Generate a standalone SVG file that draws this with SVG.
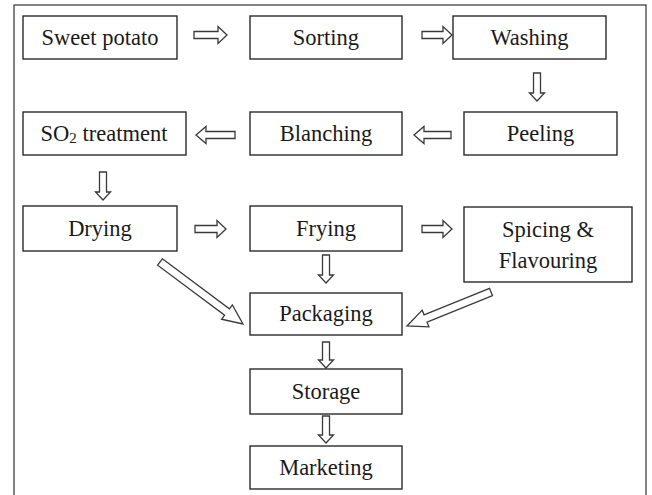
<svg xmlns="http://www.w3.org/2000/svg" width="652" height="495" viewBox="0 0 652 495">
<style>
.box{fill:#fff;stroke:#2a2a2a;stroke-width:1.4}
.lbl{font-size:22.5px;fill:#1a1a1a;text-anchor:middle}
.arr{fill:#fff;stroke:#3a3a3a;stroke-width:1.3;stroke-linejoin:miter}
</style>
<rect x="0" y="0" width="652" height="495" fill="#fff"/>
<rect x="14" y="5" width="632" height="500" fill="none" stroke="#333" stroke-width="1.2"/>
<g font-family="Liberation Serif, DejaVu Serif, serif">
<g id="sweet-potato"><rect class="box" x="23" y="16" width="154" height="43"/><text class="lbl" x="100" y="45">Sweet potato</text></g>
<g id="sorting"><rect class="box" x="250" y="16" width="152" height="43"/><text class="lbl" x="326" y="45">Sorting</text></g>
<g id="washing"><rect class="box" x="453" y="16" width="153" height="43"/><text class="lbl" x="529.5" y="45">Washing</text></g>
<g id="peeling"><rect class="box" x="464" y="112" width="153" height="43"/><text class="lbl" x="540.5" y="141">Peeling</text></g>
<g id="blanching"><rect class="box" x="250" y="112" width="152" height="43"/><text class="lbl" x="326" y="141">Blanching</text></g>
<g id="so2-treatment"><rect class="box" x="23" y="112" width="163" height="43"/><text class="lbl" x="104" y="141">SO<tspan font-size="15" dy="2">2</tspan><tspan dy="-2"> treatment</tspan></text></g>
<g id="drying"><rect class="box" x="23" y="206" width="154" height="45"/><text class="lbl" x="100" y="236">Drying</text></g>
<g id="frying"><rect class="box" x="250" y="206" width="152" height="45"/><text class="lbl" x="326" y="236">Frying</text></g>
<g id="spicing"><rect class="box" x="464" y="207" width="168" height="75"/><text class="lbl" x="548" y="237">Spicing &amp;</text><text class="lbl" x="548" y="268">Flavouring</text></g>
<g id="packaging"><rect class="box" x="250" y="293" width="152" height="42"/><text class="lbl" x="326" y="321">Packaging</text></g>
<g id="storage"><rect class="box" x="250" y="369" width="152" height="45"/><text class="lbl" x="326" y="399">Storage</text></g>
<g id="marketing"><rect class="box" x="250" y="446" width="152" height="43"/><text class="lbl" x="326" y="475">Marketing</text></g>
</g>
<g id="connectors">
<path class="arr" d="M194,31.5 H218 V26.5 L227,35 L218,43.5 V38.5 H194 Z"/>
<path class="arr" d="M422,31.5 H443 V26.5 L452,35 L443,43.5 V38.5 H422 Z"/>
<path class="arr" d="M533.5,73 V93 H529.5 L537,101 L544.5,93 H540.5 V73 Z"/>
<path class="arr" d="M451,131.5 H424 V126.5 L414,135 L424,143.5 V138.5 H451 Z"/>
<path class="arr" d="M235,131.5 H206 V126.5 L196,135 L206,143.5 V138.5 H235 Z"/>
<path class="arr" d="M99.5,172 V192 H95.5 L103,200 L110.5,192 H106.5 V172 Z"/>
<path class="arr" d="M195,225.5 H217 V220.5 L226,229 L217,237.5 V232.5 H195 Z"/>
<path class="arr" d="M422,225.5 H443 V220.5 L452,229 L443,237.5 V232.5 H422 Z"/>
<path class="arr" d="M322.5,255 V275 H318.5 L326,283 L333.5,275 H329.5 V255 Z"/>
<path class="arr" transform="translate(160,262) rotate(36.76)" d="M0,-4 H83.6 V-9 L103.6,0 L83.6,9 V4 H0 Z"/>
<path class="arr" transform="translate(491,292) rotate(157.96)" d="M0,-4 H70.6 V-9 L90.6,0 L70.6,9 V4 H0 Z"/>
<path class="arr" d="M322.5,342 V360 H318.5 L326,368 L333.5,360 H329.5 V342 Z"/>
<path class="arr" d="M322.5,416 V435 H318.5 L326,443 L333.5,435 H329.5 V416 Z"/>
</g>
</svg>
